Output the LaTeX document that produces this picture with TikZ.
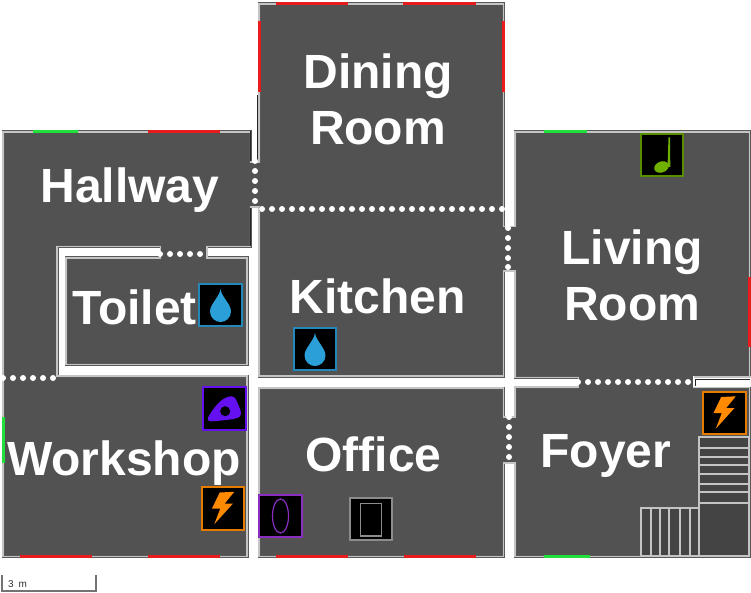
\documentclass[tikz,border=0pt]{standalone}
\usepackage{fontspec}
\setmainfont{Liberation Sans}
\definecolor{floorgrey}{HTML}{525252}
\definecolor{stairgrey}{HTML}{444444}
\definecolor{wallgrey}{HTML}{C4C4C4}
\definecolor{winred}{HTML}{E81C1C}
\definecolor{wingreen}{HTML}{22E03A}
\definecolor{dropblue}{HTML}{2A9FD8}
\definecolor{boltorange}{HTML}{FF8A00}
\definecolor{notegreen}{HTML}{6FB000}
\definecolor{blobviolet}{HTML}{6510F0}
\definecolor{portalviolet}{HTML}{8A2FC0}
\tikzset{
  room/.style={fill=floorgrey, draw=black!65, line width=0.7pt, double=wallgrey, double distance=1.6pt},
  doorgap/.style={fill=floorgrey, draw=none},
  wallcap/.style={draw=wallgrey, line width=1.6pt},
  wallhair/.style={draw=black!85, line width=0.8pt},
  roomlabel/.style={font=\fontsize{48}{56}\selectfont\bfseries, text=white, inner sep=0pt, align=center},
  iconbox/.style={fill=black, line width=1.7pt, minimum size=42.5pt, inner sep=0pt},
  winline/.style={line width=3pt},
  tread/.style={draw=wallgrey, line width=1.4pt}
}
\newcommand{\dropglyph}[1]{
  \begin{scope}[shift={(#1.center)}]
    \fill[dropblue] (0,-16) .. controls (-1,-8) and (-10.5,-1) .. (-10.5,6.5) .. controls (-10.5,13) and (-5,17) .. (0,17) .. controls (5,17) and (10.5,13) .. (10.5,6.5) .. controls (10.5,-1) and (1,-8) .. (0,-16) -- cycle;
  \end{scope}
}
\newcommand{\boltglyph}[1]{
  \begin{scope}[shift={(#1.center)}]
    \fill[boltorange] (11.3,-16.7) -- (-3.3,-16) -- (-11,0) -- (-2.7,0) -- (-8.7,15.7) -- (10,-5) -- (1.7,-5) -- cycle;
  \end{scope}
}
\begin{document}
\begin{tikzpicture}[x=1pt, y=-1pt]
\useasboundingbox (0,0) rectangle (751,593);
% rooms
\draw[room] (3,132) -- (250.5,132) -- (250.5,246.5) -- (57,246.5) -- (57,376) -- (247,376) -- (247,556.5) -- (3,556.5) -- cycle;
\draw[room] (66,258) rectangle (247,364.5);
\draw[room] (259,4) rectangle (503.5,376);
\draw[room] (515,132) -- (749.5,132) -- (749.5,377.5) -- (515,377.5) -- cycle;
\draw[room] (515,387) -- (749.5,387) -- (749.5,556.5) -- (515,556.5) -- cycle;
\draw[room] (259,388) rectangle (503.5,556.5);
\fill[white] (693,376) rectangle (751,387);
\draw[wallhair] (750,379) -- (695,379) -- (695,386);
\draw[wallgrey, line width=1.2pt] (694,377) -- (751,377);
\draw[wallhair] (257.5,95) -- (257.5,161);
\draw[wallhair] (250.5,131) -- (250.5,161);
\draw[wallhair] (250.5,208) -- (250.5,246);
% door gaps
\fill[doorgap] (249,163) rectangle (261,206);
\fill[doorgap] (161,245) rectangle (206,260);
\fill[doorgap] (502,227) rectangle (517,270);
\fill[doorgap] (502,418) rectangle (517,462);
\fill[doorgap] (579,376) rectangle (693,389);
\fill[doorgap] (5,375) rectangle (55,380);
\fill[doorgap] (259,207) rectangle (503,211);
% wall ends at the doors
\foreach \y in {162,207} \draw[wallcap] (250,\y) -- (259,\y);
\foreach \y in {226.5,271,417,463} \draw[wallcap] (503,\y) -- (516,\y);
\foreach \x in {160.5,207} \draw[wallcap] (\x,247) -- (\x,258);
\draw[wallcap] (578.5,377) -- (578.5,387);
% door dots
\foreach \x in {262,272,...,502} \fill[white] (\x,209) circle (3pt);
\foreach \y in {161,171,181,191,201} \fill[white] (255,\y) circle (3pt);
\foreach \x in {160,170,180,190,200} \fill[white] (\x,254) circle (3pt);
\foreach \x in {3,13,23,33,43,53} \fill[white] (\x,378) circle (3pt);
\foreach \y in {228,238,248,258,267} \fill[white] (508,\y) circle (3pt);
\foreach \x in {578,588,...,688} \fill[white] (\x,382) circle (3pt);
\foreach \y in {417,427,437,447,457} \fill[white] (509,\y) circle (3pt);
% windows
\foreach \a/\b in {33/78} \draw[wingreen, winline] (\a,132) -- (\b,132);
\foreach \a/\b in {148/220} \draw[winred, winline] (\a,132) -- (\b,132);
\foreach \a/\b in {20/92,148/220,276/348,404/476} \draw[winred, winline] (\a,556.5) -- (\b,556.5);
\foreach \a/\b in {276/348,403/476} \draw[winred, winline] (\a,4) -- (\b,4);
\draw[winred, winline] (259,21) -- (259,92);
\draw[winred, winline] (503.5,21) -- (503.5,92);
\draw[winred, winline] (749.5,277) -- (749.5,347);
\draw[wingreen, winline] (3,417) -- (3,463);
\draw[wingreen, winline] (544,132) -- (587,132);
\draw[wingreen, winline] (544,556.5) -- (590,556.5);
% stairs
\fill[stairgrey, draw=wallgrey, line width=1.4pt] (699,437) -- (749,437) -- (749,556) -- (641,556) -- (641,508) -- (699,508) -- cycle;
\foreach \y in {448,457,465,474,484,492,503} \draw[tread] (699,\y) -- (749,\y);
\foreach \x in {651,660,669,680,690,699} \draw[tread] (\x,508) -- (\x,556);
% icons
\node[iconbox, draw=dropblue!85!black] (toiletdrop) at (220.5,305) {};
\node[iconbox, draw=dropblue!85!black] (kitchendrop) at (315,349) {};
\node[iconbox, draw=blobviolet] (workshopblob) at (224.5,408.5) {};
\node[iconbox, draw=boltorange!90!black] (workshopbolt) at (223,508.5) {};
\node[iconbox, draw=boltorange!90!black] (foyerbolt) at (724.5,413) {};
\node[iconbox, draw=notegreen!80!black] (livingnote) at (662,155) {};
\node[iconbox, draw=portalviolet] (officeportal) at (280.5,516) {};
\node[iconbox, draw=black!45] (officedoor) at (371,519) {};
\dropglyph{toiletdrop}
\dropglyph{kitchendrop}
\boltglyph{workshopbolt}
\boltglyph{foyerbolt}
\begin{scope}[shift={(workshopblob.center)}]
  \fill[blobviolet] (-16,8) .. controls (-10,-2) and (-4,-9) .. (3,-11.5) .. controls (7,-13) and (10,-12) .. (11.5,-9) .. controls (13,-5) and (17,2) .. (16.5,5.5) .. controls (16,9) and (12,10) .. (9,10.5) .. controls (2,11.5) and (-6,12.5) .. (-13,12.8) .. controls (-17,13) and (-17.5,10.5) .. (-16,8) -- cycle;
  \fill[black] (0.7,2.7) circle (5pt);
\end{scope}
\begin{scope}[shift={(livingnote.center)}]
  \fill[notegreen, shift={(-0.5,12)}, rotate=20] (0,0) ellipse (7.5pt and 5.5pt);
  \fill[notegreen] (5.5,12) -- (6.5,-17.7) -- (8,-17.7) -- (8.3,12) -- cycle;
\end{scope}
\draw[portalviolet, line width=1.2pt] (officeportal.center) ellipse (8pt and 17pt);
\draw[black!45, line width=1.2pt] ([shift={(-10.5,-15.5)}]officedoor.center) rectangle ([shift={(10.5,17)}]officedoor.center);
% labels
\node[roomlabel] (dining) at (378,99) {Dining\\Room};
\node[roomlabel, anchor=base] (hallway) at (130,203) {Hallway};
\node[roomlabel, anchor=base] (toilet) at (134.5,324) {Toilet};
\node[roomlabel, anchor=base] (kitchen) at (377.5,313) {Kitchen};
\node[roomlabel] (living) at (632,275) {Living\\Room};
\node[roomlabel, anchor=base] (workshop) at (124,475) {Workshop};
\node[roomlabel, anchor=base] (office) at (373.5,471) {Office};
\node[roomlabel, anchor=base] (foyer) at (606,467) {Foyer};
% scale bar
\draw[black!55, line width=2pt] (2,575) -- (2,590.5) -- (96,590.5) -- (96,575);
\node[font=\fontsize{10}{11}\selectfont, anchor=base west, inner sep=0pt, text=black!80] (scalelabel) at (8,587) {3\hspace{2pt} m};
\end{tikzpicture}
\end{document}
